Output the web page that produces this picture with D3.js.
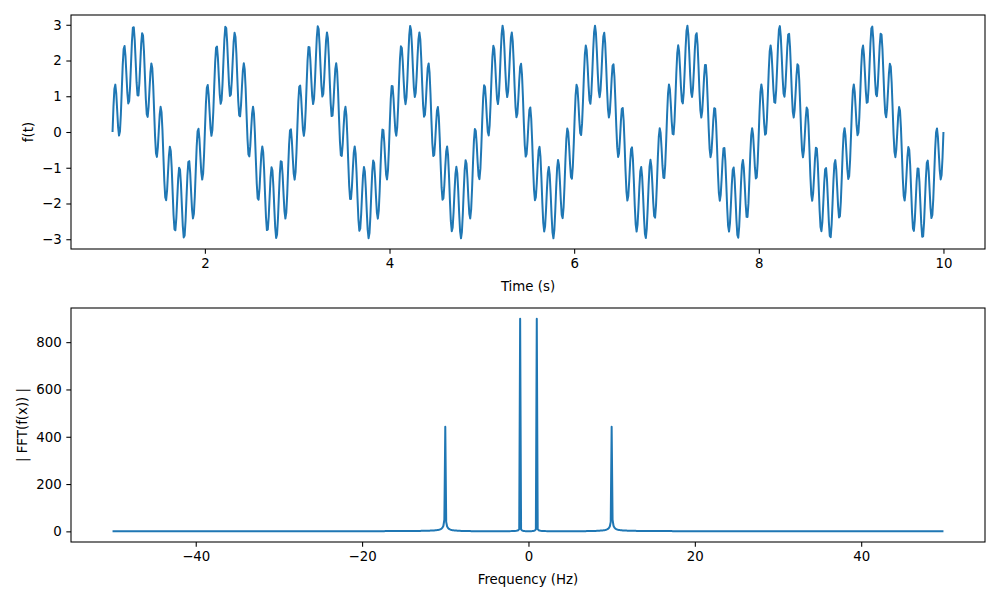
<!DOCTYPE html>
<html>
<head>
<meta charset="utf-8">
<script src="https://cdn.jsdelivr.net/npm/d3@7"></script>
<style>
  html, body { margin: 0; padding: 0; background: #fff; }
  svg { display: block; }
  text { font-family: "DejaVu Sans", sans-serif; font-size: 13.33px; fill: #000; }
</style>
</head>
<body>
<svg id="chart" width="1000" height="600"></svg>
<script>
// ---- data ----
// signal components (read from the spectrum peaks: ±1 Hz ~900, ±10 Hz ~445)
const componentFreqsHz = [1, 10];
const componentAmps = [2, 1];
// sampling: 900 samples spanning t = 1 .. 10 s, frequency axis built with 0.01 s spacing
const timeRange = [1, 10];
const sampleCount = 900;
const freqSampleSpacing = 0.01;
// tick labels
const timeTicks = [2, 4, 6, 8, 10];
const signalTicks = [-3, -2, -1, 0, 1, 2, 3];
const freqTicks = [-40, -20, 0, 20, 40];
const magTicks = [0, 200, 400, 600, 800];
const labels = { timeX: "Time (s)", timeY: "f(t)", freqX: "Frequency (Hz)", freqY: "| FFT(f(x)) |" };

// ---- build the series ----
const times = d3.range(sampleCount).map(i => timeRange[0] + (timeRange[1] - timeRange[0]) * i / (sampleCount - 1));
const signal = times.map(t => d3.sum(componentFreqsHz, (f, j) => componentAmps[j] * Math.sin(2 * Math.PI * f * t)));
const timeSeries = times.map((t, i) => ({ x: t, y: signal[i] }));

// DFT magnitude
const N = sampleCount;
const cosT = new Float64Array(N), sinT = new Float64Array(N);
for (let m = 0; m < N; m++) { cosT[m] = Math.cos(2 * Math.PI * m / N); sinT[m] = Math.sin(2 * Math.PI * m / N); }
const mags = new Float64Array(N);
for (let k = 0; k < N; k++) {
  let re = 0, im = 0;
  for (let n = 0; n < N; n++) { const m = (k * n) % N; re += signal[n] * cosT[m]; im -= signal[n] * sinT[m]; }
  mags[k] = Math.hypot(re, im);
}
const freqSeries = [];
for (let j = 0; j < N; j++) {
  const k = (j + Math.ceil(N / 2)) % N;           // fftshift order
  const kk = k < N / 2 ? k : k - N;
  freqSeries.push({ x: kk / (N * freqSampleSpacing), y: mags[k] });
}

// ---- drawing ----
const svg = d3.select("#chart");
const color = "#1f77b4";
const tickLen = 4.67, tickPad = 4.67;

function padded(ext) { const r = ext[1] - ext[0]; return [ext[0] - 0.05 * r, ext[1] + 0.05 * r]; }

function panel(box, series, xTicks, yTicks, xLabel, yLabel, yLabelX) {
  const x = d3.scaleLinear().domain(padded(d3.extent(series, d => d.x))).range([box.left, box.right]);
  const y = d3.scaleLinear().domain(padded(d3.extent(series, d => d.y))).range([box.bottom, box.top]);
  const g = svg.append("g");
  const clipId = "clip" + Math.round(box.top);
  g.append("clipPath").attr("id", clipId).append("rect")
    .attr("x", box.left).attr("y", box.top).attr("width", box.right - box.left).attr("height", box.bottom - box.top);

  g.append("path").datum(series)
    .attr("clip-path", `url(#${clipId})`)
    .attr("fill", "none").attr("stroke", color).attr("stroke-width", 2)
    .attr("stroke-linejoin", "round").attr("stroke-linecap", "butt")
    .attr("d", d3.line().x(d => x(d.x)).y(d => y(d.y)));

  const xa = g.append("g").attr("transform", `translate(0,${box.bottom})`)
    .call(d3.axisBottom(x).tickValues(xTicks).tickSize(tickLen).tickPadding(tickPad).tickFormat(d => d < 0 ? "\u2212" + Math.abs(d) : String(d)));
  const ya = g.append("g").attr("transform", `translate(${box.left},0)`)
    .call(d3.axisLeft(y).tickValues(yTicks).tickSize(tickLen).tickPadding(tickPad).tickFormat(d => d < 0 ? "\u2212" + Math.abs(d) : String(d)));
  [xa, ya].forEach(a => {
    a.select(".domain").remove();
    a.selectAll(".tick line").attr("stroke", "#000").attr("stroke-width", 1.07);
    a.selectAll(".tick text").attr("font-family", "DejaVu Sans, sans-serif").attr("font-size", 13.33).attr("fill", "#000");
  });
  xa.selectAll(".tick text").attr("dy", "0.76em");

  g.append("rect").attr("x", box.left).attr("y", box.top)
    .attr("width", box.right - box.left).attr("height", box.bottom - box.top)
    .attr("fill", "none").attr("stroke", "#000").attr("stroke-width", 1.07);

  g.append("text").attr("x", (box.left + box.right) / 2).attr("y", box.bottom + 42)
    .attr("text-anchor", "middle").text(xLabel);
  g.append("text").attr("transform", `translate(${yLabelX},${(box.top + box.bottom) / 2}) rotate(-90)`)
    .attr("text-anchor", "middle").text(yLabel);
}

panel({ left: 71, right: 985, top: 15, bottom: 249 }, timeSeries, timeTicks, signalTicks, labels.timeX, labels.timeY, 33);
panel({ left: 71, right: 985, top: 308, bottom: 542 }, freqSeries, freqTicks, magTicks, labels.freqX, labels.freqY, 27);
</script>
</body>
</html>
